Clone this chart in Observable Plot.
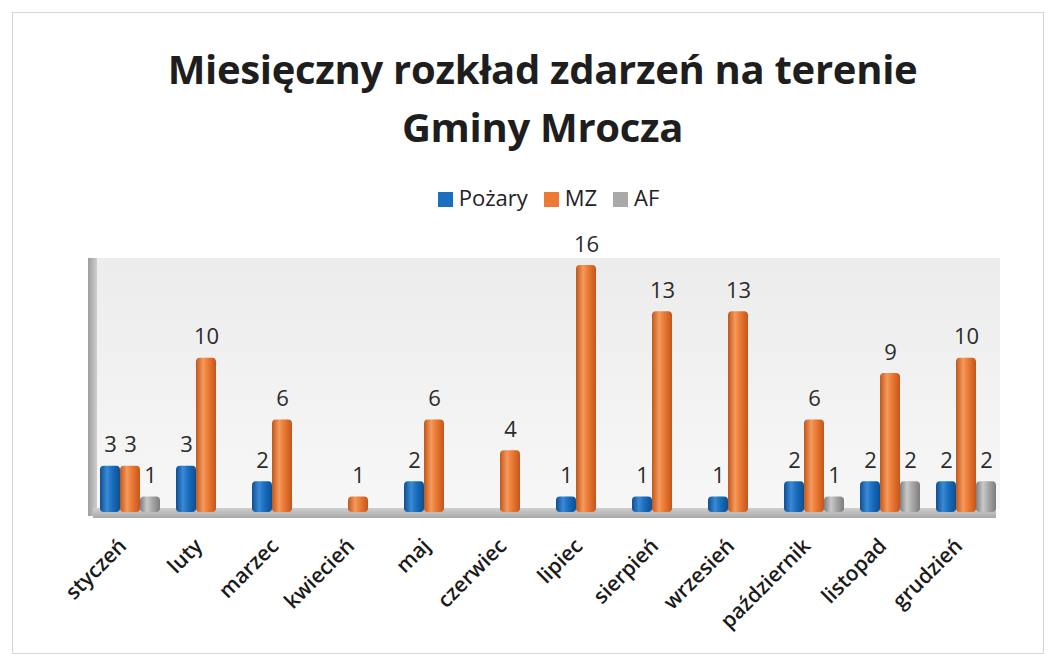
<!DOCTYPE html>
<html><head><meta charset="utf-8">
<script src="https://cdn.jsdelivr.net/npm/d3@7"></script>
<script src="https://cdn.jsdelivr.net/npm/@observablehq/plot@0.6"></script>
<style>
html,body{margin:0;padding:0;background:#fff;}
#wrap{position:relative;width:1057px;height:663px;overflow:hidden;font-family:"Open Sans",sans-serif;}
#border{position:absolute;left:12px;top:12px;width:1032px;height:642px;border:1px solid #d6d6d6;box-sizing:border-box;}
#title{position:absolute;left:14px;top:40px;width:1057px;text-align:center;font-weight:700;font-size:40px;line-height:58px;color:#1e1e1e;letter-spacing:-0.3px;}
#legend{position:absolute;left:20px;top:182px;width:1057px;text-align:center;font-size:22px;color:#222;}
#legend span.it{display:inline-block;margin:0 8px;}
#legend i{display:inline-block;width:15px;height:15px;margin-right:6px;vertical-align:-1px;}
#wall{position:absolute;left:97px;top:258px;width:903px;height:252px;background:linear-gradient(#ececec,#f7f7f7);}
#lwall{position:absolute;left:88px;top:258px;width:9px;height:258px;background:linear-gradient(90deg,#9d9d9d,#cfcfcf);}
#floor{position:absolute;left:93px;top:508px;width:903px;height:10px;background:linear-gradient(#cfcfcf,#a8a8a8);}
#chart{position:absolute;left:0;top:225px;}
</style></head>
<body><div id="wrap">
<div id="border"></div>
<div id="title">Miesięczny rozkład zdarzeń na terenie<br>Gminy Mrocza</div>
<div id="legend"></div>
<div id="wall"></div><div id="lwall"></div><div id="floor"></div>
<div id="chart"></div>
</div>
<script>
const months = ["styczeń","luty","marzec","kwiecień","maj","czerwiec","lipiec","sierpień","wrzesień","październik","listopad","grudzień"];
const seriesNames = ["Pożary","MZ","AF"];
const pozary = [3,3,2,0,2,0,1,1,1,2,2,2];
const mz = [3,10,6,1,6,4,16,13,13,6,9,10];
const af = [1,0,0,0,0,0,0,0,0,1,2,2];
const colors = ["#1a6fc0","#ec7a35","#a9a9a9"];
const darks = ["#0d4f93","#c2561a","#7d7d7d"];
const lights = ["#3b8ad6","#f49a5e","#c9c9c9"];

const values = [pozary, mz, af];
const data = [];
months.forEach((m,i)=>seriesNames.forEach((s,j)=>data.push({month:m, series:s, value:values[j][i]})));
const nonzero = data.filter(d=>d.value>0);

// legend
const leg = document.getElementById("legend");
seriesNames.forEach((s,j)=>{
  const sp = document.createElement("span"); sp.className="it";
  sp.innerHTML = `<i style="background:${colors[j]}"></i>${s}`;
  leg.appendChild(sp);
});

const chart = Plot.plot({
  width: 1057,
  height: 430,
  marginTop: 40,
  marginLeft: 97,
  marginRight: 60,
  marginBottom: 143,
  style: {fontFamily: "Open Sans, sans-serif", background: "transparent", fontSize: "21px", color: "#1a1a1a"},
  fx: {domain: months, axis: "bottom", padding: 0.2, label: null, tickRotate: -45, tickSize: 0, tickPadding: 6},
  x: {domain: seriesNames, axis: null, padding: 0},
  y: {domain: [0, 16], axis: null},
  marks: [
    Plot.barY(nonzero, {fx: "month", x: "series", y: "value", fill: d => "url(#g" + seriesNames.indexOf(d.series) + ")", rx: 4}),
    Plot.text(nonzero, {fx: "month", x: "series", y: "value", text: d => String(d.value), dy: -21, fontSize: 22, fill: "#2b2b2b"})
  ]
});
let defs = "<defs>";
colors.forEach((c,j)=>{
  defs += `<linearGradient id="g${j}" x1="0" x2="1" y1="0" y2="0">
    <stop offset="0" stop-color="${darks[j]}"/><stop offset="0.35" stop-color="${lights[j]}"/>
    <stop offset="0.6" stop-color="${c}"/><stop offset="1" stop-color="${darks[j]}"/></linearGradient>`;
});
defs += "</defs>";
chart.insertAdjacentHTML("afterbegin", defs);
// nudge the month labels down and left like the reference
chart.querySelectorAll('g[aria-label="fx-axis tick label"]').forEach(g => {
  const t = g.getAttribute("transform") || "";
  g.setAttribute("transform", "translate(-7,24) " + t);
  g.setAttribute("font-weight", "600");
});
document.getElementById("chart").appendChild(chart);
</script>
</body></html>
